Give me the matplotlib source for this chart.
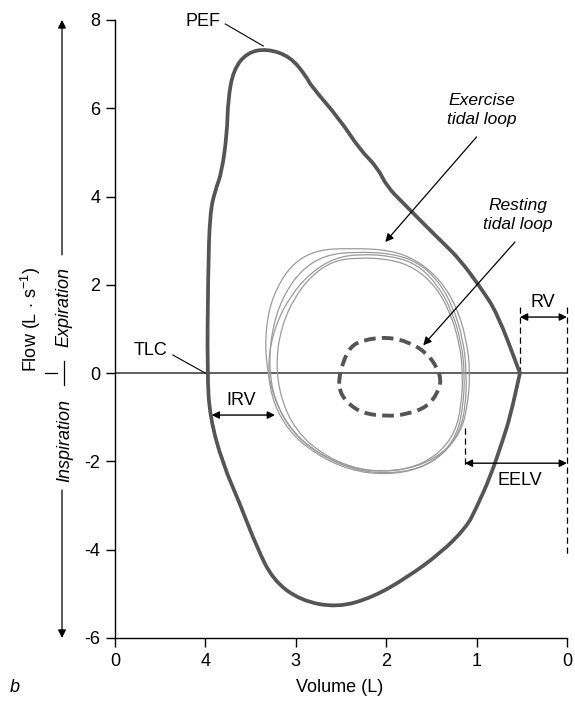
import numpy as np
import matplotlib
matplotlib.use('Agg')
import matplotlib.pyplot as plt
from matplotlib.path import Path
from matplotlib.patches import PathPatch
from matplotlib.lines import Line2D
from matplotlib.transforms import blended_transform_factory

plt.rcParams['font.family'] = ['Liberation Sans', 'DejaVu Sans']
plt.rcParams['mathtext.fontset'] = 'custom'
plt.rcParams['mathtext.rm'] = 'Liberation Sans'
plt.rcParams['mathtext.it'] = 'Liberation Sans:italic'
plt.rcParams['axes.unicode_minus'] = False

# maximal flow-volume envelope (volume L, flow L/s)
max_vol = [3.98, 3.97, 3.95, 3.89, 3.82, 3.76, 3.75, 3.69, 3.54, 3.32, 3.06, 2.88, 2.84,
           2.51, 2.29, 2.10, 1.99, 1.81, 1.55, 1.37, 1.18, 0.96, 0.77, 0.52, 0.52,
           0.63, 0.71, 0.85, 1.00, 1.11, 1.40, 1.77, 2.15, 2.54, 2.95, 3.25, 3.43,
           3.62, 3.81, 3.95]
max_flow = [0.0, 2.27, 3.63, 4.15, 4.54, 5.44, 6.19, 6.87, 7.26, 7.35, 7.17, 6.71, 6.53,
            5.74, 5.06, 4.67, 4.22, 3.85, 3.31, 2.95, 2.56, 1.95, 1.36, 0.0, 0.0,
            -1.0, -1.52, -2.36, -3.04, -3.49, -4.08, -4.63, -5.08, -5.31, -5.15, -4.69, -3.95,
            -2.95, -2.04, -1.00]

# exercise tidal loops (four breaths)
ex_vol = [
    [2.40, 1.96, 1.66, 1.40, 1.22, 1.11, 1.07, 1.10, 1.18, 1.37, 1.66, 2.04, 2.40, 2.77,
     3.06, 3.25, 3.34, 3.32, 3.21, 3.03, 2.77],
    [2.35, 1.93, 1.64, 1.42, 1.26, 1.15, 1.11, 1.12, 1.19, 1.36, 1.63, 2.00, 2.36, 2.72,
     3.03, 3.24, 3.30, 3.25, 3.12, 2.93, 2.68],
    [2.30, 1.92, 1.65, 1.44, 1.28, 1.17, 1.13, 1.15, 1.22, 1.39, 1.67, 2.03, 2.40, 2.78,
     3.09, 3.28, 3.31, 3.22, 3.05, 2.83, 2.58],
    [2.33, 1.95, 1.68, 1.46, 1.30, 1.19, 1.15, 1.17, 1.24, 1.41, 1.68, 2.02, 2.37, 2.72,
     3.00, 3.17, 3.22, 3.16, 3.02, 2.83, 2.60],
]
ex_flow = [
    [2.83, 2.79, 2.56, 2.11, 1.50, 0.75, 0.0, -0.77, -1.36, -1.81, -2.13, -2.24, -2.15, -1.81,
     -1.29, -0.54, 0.36, 1.27, 1.95, 2.49, 2.79],
    [2.75, 2.71, 2.50, 2.08, 1.50, 0.78, 0.02, -0.75, -1.35, -1.83, -2.17, -2.28, -2.19, -1.86,
     -1.36, -0.62, 0.25, 1.12, 1.82, 2.35, 2.67],
    [2.70, 2.65, 2.45, 2.02, 1.45, 0.72, -0.03, -0.80, -1.40, -1.87, -2.20, -2.30, -2.20, -1.84,
     -1.30, -0.52, 0.32, 1.12, 1.78, 2.28, 2.60],
    [2.62, 2.58, 2.38, 1.98, 1.42, 0.70, -0.02, -0.76, -1.35, -1.81, -2.13, -2.24, -2.15, -1.82,
     -1.30, -0.56, 0.26, 1.04, 1.70, 2.20, 2.53],
]

# resting tidal loop
rest_vol = [2.52, 2.48, 2.40, 2.26, 1.99, 1.74, 1.55, 1.44, 1.39, 1.43, 1.55, 1.77, 1.99,
            2.26, 2.43, 2.52]
rest_flow = [-0.09, 0.23, 0.59, 0.75, 0.82, 0.70, 0.45, 0.14, -0.16, -0.45, -0.77, -0.93,
             -0.98, -0.91, -0.68, -0.39]

x_ticks = [5, 4, 3, 2, 1, 0]
x_ticklabels = ['0', '4', '3', '2', '1', '0']
y_ticks = [8, 6, 4, 2, 0, -2, -4, -6]

FS = 13


def closed_curve(xs, ys):
    # smooth closed path: points act as quadratic control points
    pts = np.column_stack([xs, ys])
    mids = (pts + np.roll(pts, -1, axis=0)) / 2
    verts = [mids[-1]]
    codes = [Path.MOVETO]
    for p, m in zip(pts, mids):
        verts += [p, m]
        codes += [Path.CURVE3, Path.CURVE3]
    return Path(verts, codes)


fig = plt.figure(figsize=(5.75, 7.13), dpi=100)
ax = fig.add_axes([0.2, 0.1052, 0.786, 0.8668])
ax.set_xlim(5, 0)
ax.set_ylim(-6, 8)

for s in ['top', 'right']:
    ax.spines[s].set_visible(False)
for s in ['left', 'bottom']:
    ax.spines[s].set_linewidth(1.0)
ax.set_xticks(x_ticks)
ax.set_xticklabels(x_ticklabels)
ax.set_yticks(y_ticks)
ax.tick_params(length=6.5, width=1.0, labelsize=FS, pad=4)

ax.axhline(0, color='#444444', lw=1.2, zorder=1)

# loops
for xs, ys in zip(ex_vol, ex_flow):
    ax.add_patch(PathPatch(closed_curve(xs, ys), fill=False, edgecolor='#9a9a9a', lw=0.9, zorder=2))
ax.add_patch(PathPatch(closed_curve(rest_vol, rest_flow), fill=False, edgecolor='#555555',
                       lw=2.8, linestyle=(0, (3, 1.6)), zorder=3))
ax.add_patch(PathPatch(closed_curve(max_vol, max_flow), fill=False, edgecolor='#555555',
                       lw=2.7, joinstyle='round', zorder=3))

# labels inside
ax.text(4.03, 7.96, 'PEF', fontsize=FS, ha='center', va='center')
ax.plot([3.78, 3.36], [7.91, 7.41], color='black', lw=0.8)
ax.text(4.61, 0.52, 'TLC', fontsize=FS, ha='center', va='center')
ax.plot([4.36, 4.0], [0.41, 0.0], color='black', lw=0.8)

ax.text(0.94, 5.96, 'Exercise\ntidal loop', fontsize=12.5, style='italic',
        ha='center', va='center', linespacing=1.3)
ax.annotate('', xy=(2.01, 2.97), xytext=(1.0, 5.35),
            arrowprops=dict(arrowstyle='-|>', color='black', lw=0.9, mutation_scale=12,
                            shrinkA=0, shrinkB=0))
ax.text(0.54, 3.58, 'Resting\ntidal loop', fontsize=12.5, style='italic',
        ha='center', va='center', linespacing=1.3)
ax.annotate('', xy=(1.59, 0.63), xytext=(0.575, 2.97),
            arrowprops=dict(arrowstyle='-|>', color='black', lw=0.9, mutation_scale=12,
                            shrinkA=0, shrinkB=0))

dbl = dict(arrowstyle='<|-|>', color='black', lw=1.0, mutation_scale=11, shrinkA=0, shrinkB=0)
ax.text(3.6, -0.61, 'IRV', fontsize=FS, ha='center', va='center')
ax.annotate('', xy=(3.23, -0.95), xytext=(3.93, -0.95), arrowprops=dbl)

ax.text(0.265, 1.59, 'RV', fontsize=FS, ha='center', va='center')
ax.annotate('', xy=(0.0, 1.27), xytext=(0.52, 1.27), arrowprops=dbl, annotation_clip=False)
ax.plot([0.52, 0.52], [1.5, 0.0], color='black', lw=0.9, linestyle=(0, (5, 3)))
ax.plot([0.0, 0.0], [1.5, -4.15], color='black', lw=0.9, linestyle=(0, (5, 3)), clip_on=False)

ax.text(0.52, -2.43, 'EELV', fontsize=FS, ha='center', va='center')
ax.annotate('', xy=(0.0, -2.04), xytext=(1.13, -2.04), arrowprops=dbl, annotation_clip=False)
ax.plot([1.13, 1.13], [-1.25, -2.15], color='black', lw=0.9, linestyle=(0, (5, 3)))

# left margin annotations
trans = blended_transform_factory(fig.transFigure, ax.transData)
ax_x = 62 / 575
fig.text(31 / 575, 1 - 320 / 713, r'Flow (L $\cdot$ s$^{-1}$)', rotation=90, fontsize=FS,
         ha='center', va='center')
ax.text(ax_x + 0.004, 1.5, 'Expiration', rotation=90, style='italic', fontsize=FS,
        ha='center', va='center', transform=trans)
ax.text(ax_x + 0.004, -1.52, 'Inspiration', rotation=90, style='italic', fontsize=FS,
        ha='center', va='center', transform=trans)
ax.annotate('', xy=(ax_x, 8.0), xytext=(ax_x, 2.68), xycoords=trans, textcoords=trans,
            arrowprops=dict(arrowstyle='-|>', color='black', lw=0.9, mutation_scale=12,
                            shrinkA=0, shrinkB=0), annotation_clip=False)
ax.annotate('', xy=(ax_x, -6.0), xytext=(ax_x, -2.65), xycoords=trans, textcoords=trans,
            arrowprops=dict(arrowstyle='-|>', color='black', lw=0.9, mutation_scale=12,
                            shrinkA=0, shrinkB=0), annotation_clip=False)
fig.add_artist(Line2D([45 / 575, 57 / 575], [0, 0], transform=trans, color='black', lw=0.9))
fig.add_artist(Line2D([64 / 575, 64 / 575], [0.27, -0.27], transform=trans, color='black', lw=0.9))

fig.text(340 / 575, 1 - 687 / 713, 'Volume (L)', fontsize=FS, ha='center', va='center')
fig.text(15 / 575, 1 - 687 / 713, 'b', fontsize=FS, style='italic', ha='center', va='center')

fig.savefig('out.png', dpi=100)
